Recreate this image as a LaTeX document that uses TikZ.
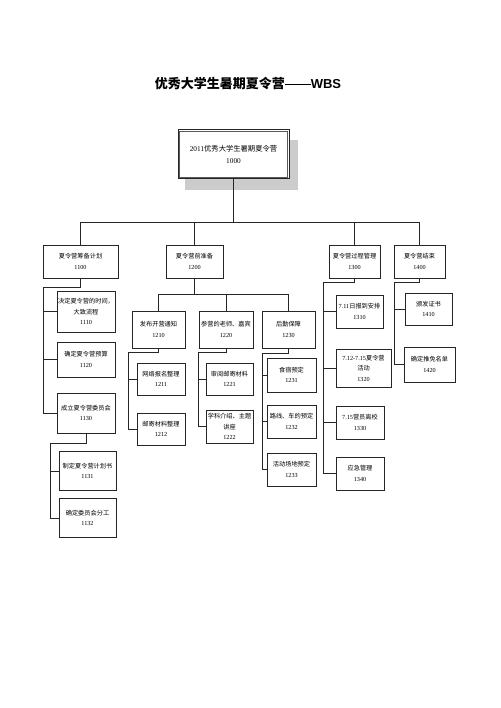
\documentclass[tikz,border=0pt]{standalone}
\usepackage{fontspec}
\setmainfont{Liberation Serif}
\newfontfamily\cjk{Noto Sans CJK SC}
\newfontfamily\arialf{Liberation Sans}
\newcommand\zh[1]{{\cjk #1}}
\tikzset{
  box/.style={draw=black!85, line width=0.7pt, align=center, inner sep=0pt, fill=white,
    font=\fontsize{6.2}{10.5}\selectfont},
  rootbox/.style={draw=black!85, line width=1pt, align=center, inner sep=0pt, fill=white,
    font=\fontsize{7.3}{11.5}\selectfont, minimum width=111, minimum height=49},
  link/.style={draw=black!85, line width=0.8pt},
}
\begin{document}
\begin{tikzpicture}[x=1pt,y=-1pt]
\useasboundingbox (0,0) rectangle (500,708);
\fill[white] (0,0) rectangle (500,708);
% title
\node (title) at (248,84) {\fontsize{13}{15}\selectfont\bfseries\zh{优秀大学生暑期夏令营}\rule[3.6pt]{26pt}{0.9pt}{\arialf WBS}};
% root
\fill[gray!40] (185,140) rectangle (298,190);
\node[rootbox] (root) at (233.5,154.5) {2011\zh{优秀大学生暑期夏令营}\\1000};
\draw[gray!70!black, line width=0.6pt] ([shift={(2.2,2.2)}]root.north west) rectangle ([shift={(-2.2,-2.2)}]root.south east);
% level 1
\node[box, minimum width=75, minimum height=33] (b1100) at (80.5,261.5) {\zh{夏令营筹备计划}\\1100};
\node[box, minimum width=57, minimum height=33] (b1200) at (194.5,261.5) {\zh{夏令营前准备}\\1200};
\node[box, minimum width=51, minimum height=33] (b1300) at (354.5,261.5) {\zh{夏令营过程管理}\\1300};
\node[box, minimum width=51, minimum height=33] (b1400) at (419.5,261.5) {\zh{夏令营结束}\\1400};
% under 1100
\node[box, minimum width=58, minimum height=41] (b1110) at (86,311.5) {\zh{决定夏令营的时间，}\\\zh{大致流程}\\1110};
\node[box, minimum width=58, minimum height=35] (b1120) at (86,359.5) {\zh{确定夏令营预算}\\1120};
\node[box, minimum width=58, minimum height=40] (b1130) at (86,413) {\zh{成立夏令营委员会}\\1130};
\node[box, minimum width=57, minimum height=39] (b1131) at (87.5,471) {\zh{制定夏令营计划书}\\1131};
\node[box, minimum width=57, minimum height=39] (b1132) at (87.5,518) {\zh{确定委员会分工}\\1132};
% under 1200
\node[box, minimum width=53, minimum height=37] (b1210) at (158.5,329.5) {\zh{发布开营通知}\\1210};
\node[box, minimum width=54, minimum height=37] (b1220) at (226,329.5) {\zh{参营的老师、嘉宾}\\1220};
\node[box, minimum width=53, minimum height=37] (b1230) at (288.5,329.5) {\zh{后勤保障}\\1230};
\node[box, minimum width=48, minimum height=32] (b1211) at (161,379) {\zh{网络报名整理}\\1211};
\node[box, minimum width=48, minimum height=32] (b1212) at (161,429) {\zh{邮寄材料整理}\\1212};
\node[box, minimum width=47, minimum height=32] (b1221) at (229.5,379) {\zh{审阅邮寄材料}\\1221};
\node[box, minimum width=47, minimum height=33] (b1222) at (229.5,426.5) {\zh{学科介绍、主题}\\\zh{讲座}\\1222};
\node[box, minimum width=49, minimum height=34] (b1231) at (291.5,375) {\zh{食宿预定}\\1231};
\node[box, minimum width=49, minimum height=33] (b1232) at (291.5,421.5) {\zh{路线、车的预定}\\1232};
\node[box, minimum width=49, minimum height=33] (b1233) at (291.5,469.5) {\zh{活动场地预定}\\1233};
% under 1300
\node[box, minimum width=47, minimum height=33] (b1310) at (359.5,311.5) {7.11\zh{日报到安排}\\1310};
\node[box, minimum width=55, minimum height=38] (b1320) at (363.5,368) {7.12-7.15\zh{夏令营}\\\zh{活动}\\1320};
\node[box, minimum width=48, minimum height=33] (b1330) at (360,422.5) {7.15\zh{营员离校}\\1330};
\node[box, minimum width=48, minimum height=33] (b1340) at (360,473.5) {\zh{应急管理}\\1340};
% under 1400
\node[box, minimum width=47, minimum height=32] (b1410) at (428.5,309) {\zh{颁发证书}\\1410};
\node[box, minimum width=51, minimum height=35] (b1420) at (429.5,364.5) {\zh{确定推免名单}\\1420};
% connectors
\coordinate (bus) at (233.5,222);
\draw[link] (root.south) -- (bus);
\foreach \n in {1100,1200,1300,1400} \draw[link] (bus) -| (b\n.north);
\coordinate (s1100) at (43,287);
\draw[link] (b1100.south) |- (s1100);
\foreach \n in {1110,1120,1130} \draw[link] (s1100) |- (b\n.west);
\coordinate (s1130) at (50,443);
\draw[link] (b1130.south) |- (s1130);
\foreach \n in {1131,1132} \draw[link] (s1130) |- (b\n.west);
\coordinate (s1200) at (194.5,294);
\draw[link] (b1200.south) -- (s1200);
\foreach \n in {1210,1220,1230} \draw[link] (s1200) -| (b\n.north);
\coordinate (s1210) at (128,352);
\draw[link] (b1210.south) |- (s1210);
\foreach \n in {1211,1212} \draw[link] (s1210) |- (b\n.west);
\coordinate (s1220) at (198,352);
\draw[link] (b1220.south) |- (s1220);
\foreach \n in {1221,1222} \draw[link] (s1220) |- (b\n.west);
\coordinate (s1230) at (262,353);
\draw[link] (b1230.south) |- (s1230);
\foreach \n in {1231,1232,1233} \draw[link] (s1230) |- (b\n.west);
\coordinate (s1300) at (323,282);
\draw[link] (b1300.south) |- (s1300);
\foreach \n in {1310,1320,1330,1340} \draw[link] (s1300) |- (b\n.west);
\coordinate (s1400) at (394,282);
\draw[link] (b1400.south) |- (s1400);
\foreach \n in {1410,1420} \draw[link] (s1400) |- (b\n.west);
\end{tikzpicture}
\end{document}
